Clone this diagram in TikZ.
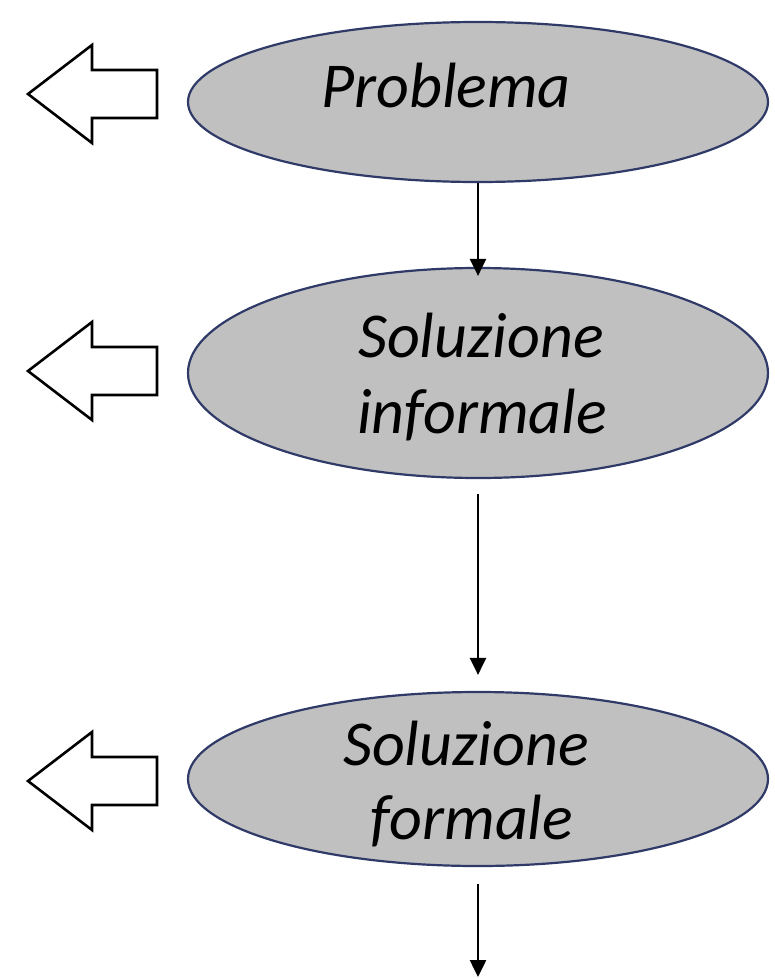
\documentclass[tikz,border=0pt]{standalone}
\usepackage{fontspec}
\setmainfont{Carlito}
\usetikzlibrary{shapes.geometric,arrows.meta}
\definecolor{ellfill}{HTML}{C0C0C0}
\definecolor{elldraw}{HTML}{2F3A68}
\tikzset{
  ellbox/.style={ellipse, draw=elldraw, fill=ellfill, line width=2.2pt, minimum width=580pt, inner sep=0pt},
  lbl/.style={anchor=base, inner sep=0pt, font=\fontsize{64}{76}\selectfont\itshape},
  flow/.style={line width=2.5pt, -{Triangle[width=16pt,length=17pt]}},
  blockarrow/.style={draw=black, fill=white, line width=2.6pt, line join=miter}
}
\begin{document}
\begin{tikzpicture}[x=1pt,y=-1pt]
\useasboundingbox (0,0) rectangle (774,979);
% ellipses
\node[ellbox, minimum height=160pt] (e1) at (478,102) {};
\node[ellbox, minimum height=210pt] (e2) at (478,373) {};
\node[ellbox, minimum height=174pt] (e3) at (478,779) {};
% texts
\node[lbl] (t1) at (446,108) {Problema};
\node[lbl] (t2a) at (481,357) {Soluzione};
\node[lbl] (t2b) at (482,433) {informale};
\node[lbl] (t3a) at (466,765) {Soluzione};
\node[lbl] (t3b) at (472,839) {formale};
% connectors
\draw[flow, shorten >=-9pt] (e1.south) -- (e2.north);
\draw[flow, shorten <=15pt, shorten >=16pt] (e2.south) -- (e3.north);
\coordinate (end3) at (478,977);
\draw[flow, shorten <=17pt] (e3.south) -- (end3);
% block arrows
\foreach \c/\n in {94/b1,371/b2,781/b3}{
  \draw[blockarrow] (28,\c) -- (92,\c-49) -- (92,\c-24) -- (157,\c-24) -- (157,\c+24) -- (92,\c+24) -- (92,\c+49) -- cycle;
}
\end{tikzpicture}
\end{document}
